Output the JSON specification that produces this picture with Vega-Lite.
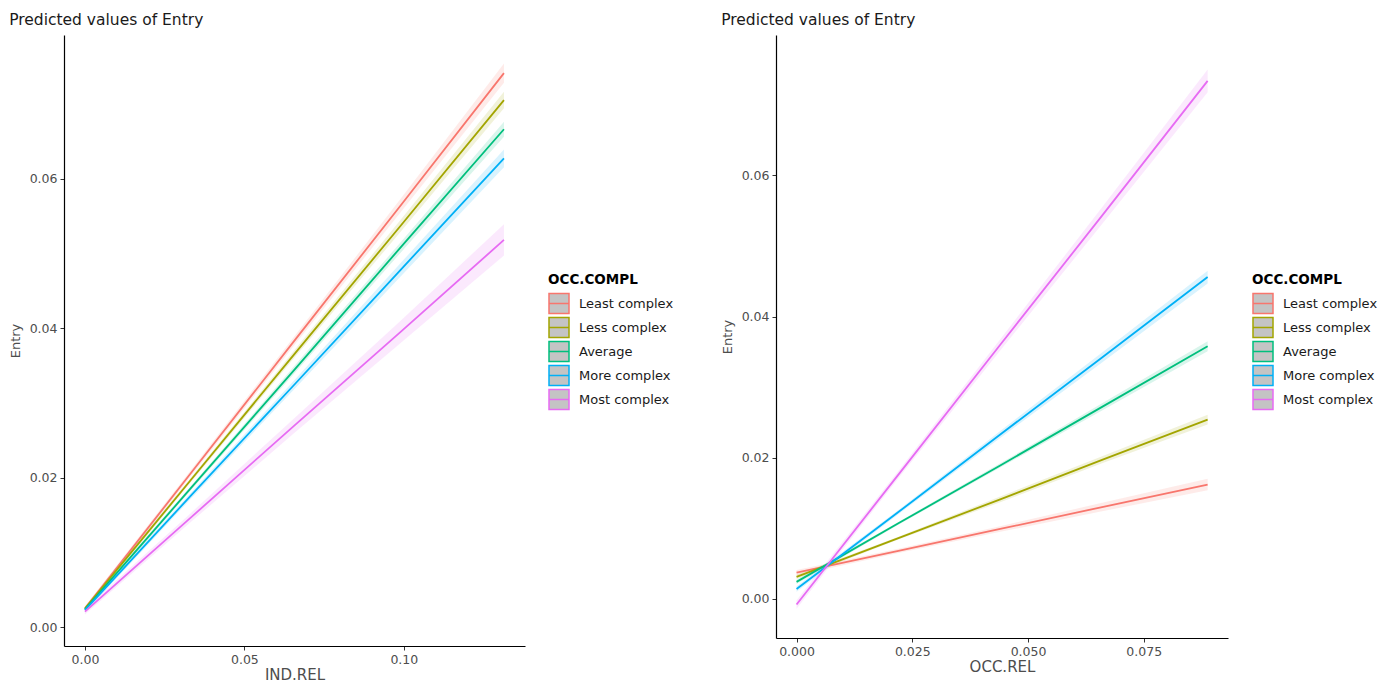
{
  "$schema": "https://vega.github.io/schema/vega-lite/v6.json",
  "background": "white",
  "padding": {"left": 9, "top": 13, "right": 5, "bottom": 5},
  "config": {
    "font": "DejaVu Sans",
    "view": {"stroke": null},
    "title": {"font": "DejaVu Sans", "fontSize": 15.5, "fontWeight": "normal", "color": "#1a1a1a", "anchor": "start", "offset": 6.5},
    "axis": {
      "grid": false, "domainColor": "#000000", "domainWidth": 1.2,
      "tickColor": "#333333", "tickSize": 4, "tickWidth": 1,
      "labelFont": "DejaVu Sans", "labelFontSize": 12.5, "labelColor": "#4d4d4d", "labelPadding": 3,
      "titleFont": "DejaVu Sans", "titleFontWeight": "normal", "titleColor": "#4d4d4d"
    },
    "axisX": {"titleFontSize": 15, "titlePadding": 2, "labelPadding": 3},
    "axisY": {"titleFontSize": 13, "titlePadding": 7},
    "legend": {
      "titleFont": "DejaVu Sans", "titleFontSize": 13.5, "titleFontWeight": "bold", "titleColor": "#000000",
      "labelFont": "DejaVu Sans", "labelFontSize": 13, "labelColor": "#1a1a1a",
      "labelOffset": 9, "titlePadding": 6,
      "symbolType": "M-1,-1H1V1H-1Z M-1,0H1", "symbolSize": 400, "rowPadding": -8,
      "symbolFillColor": "#c4c4c4", "symbolOpacity": 1, "symbolStrokeWidth": 1.5
    }
  },
  "datasets": {
    "ind": [
      {"group": "Least complex", "x": 0, "y": 0.0025, "lo": 0.0022, "hi": 0.0028},
      {"group": "Least complex", "x": 0.033, "y": 0.0205, "lo": 0.0201, "hi": 0.0209},
      {"group": "Least complex", "x": 0.066, "y": 0.0385, "lo": 0.0379, "hi": 0.0391},
      {"group": "Least complex", "x": 0.099, "y": 0.0564, "lo": 0.0555, "hi": 0.0573},
      {"group": "Least complex", "x": 0.1314, "y": 0.0741, "lo": 0.0728, "hi": 0.0754},
      {"group": "Less complex", "x": 0, "y": 0.0025, "lo": 0.0022, "hi": 0.0028},
      {"group": "Less complex", "x": 0.033, "y": 0.0196, "lo": 0.0193, "hi": 0.0199},
      {"group": "Less complex", "x": 0.066, "y": 0.0367, "lo": 0.0362, "hi": 0.0372},
      {"group": "Less complex", "x": 0.099, "y": 0.0537, "lo": 0.0529, "hi": 0.0545},
      {"group": "Less complex", "x": 0.1314, "y": 0.0705, "lo": 0.0694, "hi": 0.0716},
      {"group": "Average", "x": 0, "y": 0.0024, "lo": 0.0021, "hi": 0.0027},
      {"group": "Average", "x": 0.033, "y": 0.0185, "lo": 0.0182, "hi": 0.0188},
      {"group": "Average", "x": 0.066, "y": 0.0346, "lo": 0.0341, "hi": 0.0351},
      {"group": "Average", "x": 0.099, "y": 0.0508, "lo": 0.0501, "hi": 0.0515},
      {"group": "Average", "x": 0.1314, "y": 0.0666, "lo": 0.0656, "hi": 0.0676},
      {"group": "More complex", "x": 0, "y": 0.0023, "lo": 0.002, "hi": 0.0026},
      {"group": "More complex", "x": 0.033, "y": 0.0175, "lo": 0.0171, "hi": 0.0179},
      {"group": "More complex", "x": 0.066, "y": 0.0326, "lo": 0.032, "hi": 0.0332},
      {"group": "More complex", "x": 0.099, "y": 0.0478, "lo": 0.0469, "hi": 0.0487},
      {"group": "More complex", "x": 0.1314, "y": 0.0627, "lo": 0.0615, "hi": 0.0639},
      {"group": "Most complex", "x": 0, "y": 0.0021, "lo": 0.0017, "hi": 0.0025},
      {"group": "Most complex", "x": 0.033, "y": 0.0146, "lo": 0.014, "hi": 0.0152},
      {"group": "Most complex", "x": 0.066, "y": 0.0271, "lo": 0.0261, "hi": 0.0281},
      {"group": "Most complex", "x": 0.099, "y": 0.0395, "lo": 0.038, "hi": 0.041},
      {"group": "Most complex", "x": 0.1314, "y": 0.0518, "lo": 0.0497, "hi": 0.0539}
    ],
    "occ": [
      {"group": "Least complex", "x": 0, "y": 0.0037, "lo": 0.0033, "hi": 0.0041},
      {"group": "Least complex", "x": 0.022, "y": 0.0068, "lo": 0.0065, "hi": 0.0071},
      {"group": "Least complex", "x": 0.044, "y": 0.0099, "lo": 0.0095, "hi": 0.0103},
      {"group": "Least complex", "x": 0.066, "y": 0.013, "lo": 0.0124, "hi": 0.0136},
      {"group": "Least complex", "x": 0.0888, "y": 0.0162, "lo": 0.0154, "hi": 0.017},
      {"group": "Less complex", "x": 0, "y": 0.0031, "lo": 0.0028, "hi": 0.0034},
      {"group": "Less complex", "x": 0.022, "y": 0.0086, "lo": 0.0084, "hi": 0.0088},
      {"group": "Less complex", "x": 0.044, "y": 0.0141, "lo": 0.0137, "hi": 0.0145},
      {"group": "Less complex", "x": 0.066, "y": 0.0197, "lo": 0.0192, "hi": 0.0202},
      {"group": "Less complex", "x": 0.0888, "y": 0.0254, "lo": 0.0247, "hi": 0.0261},
      {"group": "Average", "x": 0, "y": 0.0024, "lo": 0.0021, "hi": 0.0027},
      {"group": "Average", "x": 0.022, "y": 0.0107, "lo": 0.0105, "hi": 0.0109},
      {"group": "Average", "x": 0.044, "y": 0.0189, "lo": 0.0186, "hi": 0.0192},
      {"group": "Average", "x": 0.066, "y": 0.0272, "lo": 0.0267, "hi": 0.0277},
      {"group": "Average", "x": 0.0888, "y": 0.0358, "lo": 0.0351, "hi": 0.0365},
      {"group": "More complex", "x": 0, "y": 0.0014, "lo": 0.001, "hi": 0.0018},
      {"group": "More complex", "x": 0.022, "y": 0.0123, "lo": 0.012, "hi": 0.0126},
      {"group": "More complex", "x": 0.044, "y": 0.0233, "lo": 0.0228, "hi": 0.0238},
      {"group": "More complex", "x": 0.066, "y": 0.0342, "lo": 0.0335, "hi": 0.0349},
      {"group": "More complex", "x": 0.0888, "y": 0.0456, "lo": 0.0447, "hi": 0.0465},
      {"group": "Most complex", "x": 0, "y": -0.0008, "lo": -0.0014, "hi": -0.0002},
      {"group": "Most complex", "x": 0.022, "y": 0.0176, "lo": 0.0171, "hi": 0.0181},
      {"group": "Most complex", "x": 0.044, "y": 0.036, "lo": 0.0352, "hi": 0.0368},
      {"group": "Most complex", "x": 0.066, "y": 0.0543, "lo": 0.0531, "hi": 0.0555},
      {"group": "Most complex", "x": 0.0888, "y": 0.0734, "lo": 0.0718, "hi": 0.075}
    ]
  },
  "hconcat": [
    {
      "title": "Predicted values of Entry",
      "width": 461,
      "height": 611,
      "data": {"name": "ind"},
      "layer": [
        {
          "mark": {"type": "area", "opacity": 0.15},
          "encoding": {
            "x": {"field": "x", "type": "quantitative", "scale": {"domain": [-0.00657, 0.138], "nice": false, "zero": false},
                  "axis": {"title": "IND.REL", "values": [0, 0.05, 0.1], "format": ".2f"}},
            "y": {"field": "lo", "type": "quantitative", "scale": {"domain": [-0.0025, 0.0792], "nice": false, "zero": false},
                  "axis": {"title": "Entry", "values": [0, 0.02, 0.04, 0.06], "format": ".2f"}},
            "y2": {"field": "hi"},
            "fill": {"field": "group", "type": "nominal",
                     "scale": {"domain": ["Average", "Least complex", "Less complex", "More complex", "Most complex"],
                               "range": ["#00BF7D", "#F8766D", "#A3A500", "#00B0F6", "#E76BF3"]},
                     "legend": null}
          }
        },
        {
          "mark": {"type": "line", "strokeWidth": 1.8},
          "encoding": {
            "x": {"field": "x", "type": "quantitative"},
            "y": {"field": "y", "type": "quantitative"},
            "color": {"field": "group", "type": "nominal",
                      "scale": {"domain": ["Least complex", "Less complex", "Average", "More complex", "Most complex"],
                                "range": ["#F8766D", "#A3A500", "#00BF7D", "#00B0F6", "#E76BF3"]},
                      "legend": {"title": "OCC.COMPL", "orient": "none", "legendX": 484, "legendY": 238, "rowPadding": -8,
                                 "symbolType": "M-1,-1H1V1H-1Z M-1,0H1", "symbolSize": 400,
                                 "symbolFillColor": "#c4c4c4", "symbolOpacity": 1, "symbolStrokeWidth": 1.5}}
          }
        }
      ]
    },
    {
      "title": "Predicted values of Entry",
      "width": 452,
      "height": 603,
      "data": {"name": "occ"},
      "layer": [
        {
          "mark": {"type": "area", "opacity": 0.15},
          "encoding": {
            "x": {"field": "x", "type": "quantitative", "scale": {"domain": [-0.00444, 0.0932], "nice": false, "zero": false},
                  "axis": {"title": "OCC.REL", "values": [0, 0.025, 0.05, 0.075], "format": ".3f"}},
            "y": {"field": "lo", "type": "quantitative", "scale": {"domain": [-0.00555, 0.0799], "nice": false, "zero": false},
                  "axis": {"title": "Entry", "values": [0, 0.02, 0.04, 0.06], "format": ".2f"}},
            "y2": {"field": "hi"},
            "fill": {"field": "group", "type": "nominal",
                     "scale": {"domain": ["Average", "Least complex", "Less complex", "More complex", "Most complex"],
                               "range": ["#00BF7D", "#F8766D", "#A3A500", "#00B0F6", "#E76BF3"]},
                     "legend": null}
          }
        },
        {
          "mark": {"type": "line", "strokeWidth": 1.8},
          "encoding": {
            "x": {"field": "x", "type": "quantitative"},
            "y": {"field": "y", "type": "quantitative"},
            "color": {"field": "group", "type": "nominal",
                      "scale": {"domain": ["Least complex", "Less complex", "Average", "More complex", "Most complex"],
                                "range": ["#F8766D", "#A3A500", "#00BF7D", "#00B0F6", "#E76BF3"]},
                      "legend": {"title": "OCC.COMPL", "orient": "none", "legendX": 476, "legendY": 238, "rowPadding": -8.5,
                                 "symbolType": "M-1,-1H1V1H-1Z M-1,0H1", "symbolSize": 400,
                                 "symbolFillColor": "#c4c4c4", "symbolOpacity": 1, "symbolStrokeWidth": 1.5}}
          }
        }
      ]
    }
  ],
  "resolve": {"scale": {"fill": "independent", "color": "independent", "x": "independent", "y": "independent"}, "legend": {"color": "independent", "fill": "independent"}},
  "spacing": 251,
  "bounds": "flush"
}
